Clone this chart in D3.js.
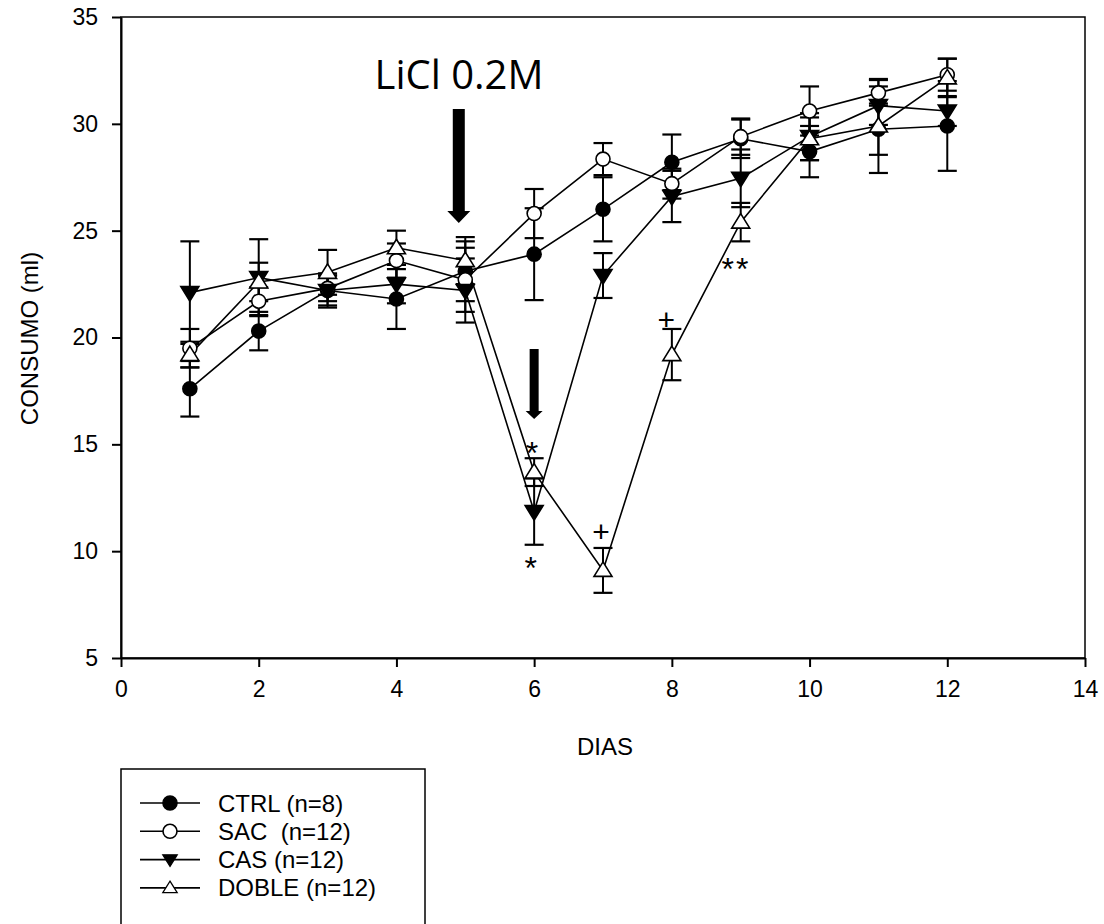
<!DOCTYPE html>
<html>
<head>
<meta charset="utf-8">
<script src="https://cdn.jsdelivr.net/npm/d3@7"></script>
<style>
  body { margin: 0; background: #fff; }
  svg { display: block; }
</style>
</head>
<body>
<script>
// data
var dias = [1, 2, 3, 4, 5, 6, 7, 8, 9, 10, 11, 12];
var ctrl = [17.6, 20.3, 22.2, 21.8, 23.1, 23.9, 26.0, 28.2, 29.3, 28.7, 29.75, 29.9];
var ctrlErr = [1.3, 0.9, 0.7, 1.4, 1.4, 2.15, 1.5, 1.3, 0.9, 1.2, 1.2, 2.1];
var sac = [19.5, 21.7, 22.3, 23.6, 22.7, 25.8, 28.35, 27.2, 29.4, 30.6, 31.45, 32.3];
var sacErr = [0.9, 0.65, 0.6, 0.8, 1.5, 1.15, 0.75, 0.7, 0.85, 1.15, 0.6, 0.75];
var cas = [22.1, 22.8, 22.2, 22.5, 22.2, 11.85, 22.9, 26.6, 27.45, 29.4, 30.85, 30.6];
var casErr = [2.4, 1.8, 0.8, 0.9, 1.5, 1.55, 1.05, 1.2, 1.35, 1.1, 0.9, 0.7];
var doble = [19.2, 22.6, 23.05, 24.2, 23.6, 13.7, 9.1, 19.2, 25.4, 29.3, 29.9, 32.15];
var dobleErr = [0.6, 0.9, 1.05, 0.8, 1.1, 0.65, 1.05, 1.2, 0.9, 1.0, 2.2, 0.9];
var xTicks = [0, 2, 4, 6, 8, 10, 12, 14];
var yTicks = [5, 10, 15, 20, 25, 30, 35];
var nombres = ["CTRL (n=8)", "SAC  (n=12)", "CAS (n=12)", "DOBLE (n=12)"];
// significance marks: [day, value, text]
var marcas = [[5.97, 14.6, "*"], [5.95, 9.2, "*"], [6.97, 10.9, "+"], [7.92, 20.85, "+"], [8.93, 23.2, "**"]];

var W = 1104, H = 924;
var mL = 121, mR = 1085, mT = 17, mB = 658;

var svg = d3.select("body").append("svg")
  .attr("width", W)
  .attr("height", H);

var x = d3.scaleLinear().domain([0, 14]).range([mL, mR]);
var y = d3.scaleLinear().domain([5, 35]).range([mB, mT]);

var series = [
  { name: nombres[0], v: ctrl, e: ctrlErr, sym: "circle", fill: "#000" },
  { name: nombres[1], v: sac, e: sacErr, sym: "circle", fill: "#fff" },
  { name: nombres[2], v: cas, e: casErr, sym: "down", fill: "#000" },
  { name: nombres[3], v: doble, e: dobleErr, sym: "up", fill: "#fff" }
];

function symPath(s) {
  if (s == "up") return "M0,-8.5L9,6L-9,6Z";
  if (s == "down") return "M0,8.5L9,-6L-9,-6Z";
  return null;
}

function addSymbol(g, s) {
  if (s.sym == "circle") {
    g.append("circle").attr("r", 7)
      .attr("fill", s.fill).attr("stroke", "#000").attr("stroke-width", 1.6);
  } else {
    g.append("path").attr("d", symPath(s.sym))
      .attr("fill", s.fill).attr("stroke", "#000").attr("stroke-width", 1.6);
  }
}

// frame
svg.append("rect")
  .attr("x", mL).attr("y", mT)
  .attr("width", mR - mL).attr("height", mB - mT)
  .attr("fill", "none").attr("stroke", "#000").attr("stroke-width", 1.5);

// axes
var xAxis = svg.append("g")
  .attr("transform", "translate(0," + mB + ")")
  .call(d3.axisBottom(x).tickValues(xTicks).tickSize(9).tickSizeOuter(0).tickPadding(14));
var yAxis = svg.append("g")
  .attr("transform", "translate(" + mL + ",0)")
  .call(d3.axisLeft(y).tickValues(yTicks).tickSize(9).tickSizeOuter(0).tickPadding(14));

[xAxis, yAxis].forEach(function(a) {
  a.select(".domain").attr("stroke-width", 2);
  a.selectAll(".tick line").attr("stroke-width", 2);
  a.selectAll(".tick text")
    .attr("font-family", "Liberation Sans, Arial, sans-serif")
    .attr("font-size", 23)
    .attr("fill", "#000");
});

// axis titles
svg.append("text")
  .attr("x", (mL + mR) / 2 + 2).attr("y", 755)
  .attr("text-anchor", "middle")
  .attr("font-family", "Liberation Sans, Arial, sans-serif")
  .attr("font-size", 24)
  .text("DIAS");
svg.append("text")
  .attr("transform", "translate(38," + ((mT + mB) / 2 + 1) + ") rotate(-90)")
  .attr("text-anchor", "middle")
  .attr("font-family", "Liberation Sans, Arial, sans-serif")
  .attr("font-size", 24)
  .text("CONSUMO (ml)");

var plot = svg.append("g");

// lines
var line = d3.line()
  .x(function(d, i) { return x(dias[i]); })
  .y(function(d) { return y(d); });

series.forEach(function(s) {
  plot.append("path")
    .datum(s.v)
    .attr("d", line)
    .attr("fill", "none")
    .attr("stroke", "#000")
    .attr("stroke-width", 1.6);
});

// error bars
series.forEach(function(s) {
  var g = plot.append("g");
  s.v.forEach(function(v, i) {
    var cx = x(dias[i]);
    g.append("line")
      .attr("x1", cx).attr("x2", cx)
      .attr("y1", y(v - s.e[i])).attr("y2", y(v + s.e[i]))
      .attr("stroke", "#000").attr("stroke-width", 2);
    [v - s.e[i], v + s.e[i]].forEach(function(c) {
      g.append("line")
        .attr("x1", cx - 9.5).attr("x2", cx + 9.5)
        .attr("y1", y(c)).attr("y2", y(c))
        .attr("stroke", "#000").attr("stroke-width", 2.2);
    });
  });
});

// symbols
series.forEach(function(s) {
  s.v.forEach(function(v, i) {
    var g = plot.append("g")
      .attr("transform", "translate(" + x(dias[i]) + "," + y(v) + ")");
    addSymbol(g, s);
  });
});

// significance marks
svg.selectAll("text.marca")
  .data(marcas)
  .enter()
  .append("text")
  .attr("class", "marca")
  .attr("x", function(d) { return x(d[0]); })
  .attr("y", function(d) { return y(d[1]); })
  .attr("text-anchor", "middle")
  .attr("dominant-baseline", "central")
  .attr("font-family", "Liberation Sans, Arial, sans-serif")
  .attr("font-size", function(d) { return d[2] == "+" ? 30 : 32; })
  .attr("letter-spacing", function(d) { return d[2] == "**" ? 2 : 0; })
  .text(function(d) { return d[2]; });

// LiCl annotation and arrows
svg.append("text")
  .attr("x", 459).attr("y", 89)
  .attr("text-anchor", "middle")
  .attr("font-family", "Open Sans, sans-serif")
  .attr("font-size", 40)
  .text("LiCl 0.2M");

function arrow(cx, y0, y1, sw, hw, hh) {
  svg.append("path")
    .attr("d", "M" + (cx - sw / 2) + "," + y0 +
      "L" + (cx + sw / 2) + "," + y0 +
      "L" + (cx + sw / 2) + "," + (y1 - hh) +
      "L" + (cx + hw / 2) + "," + (y1 - hh) +
      "L" + cx + "," + y1 +
      "L" + (cx - hw / 2) + "," + (y1 - hh) +
      "L" + (cx - sw / 2) + "," + (y1 - hh) + "Z")
    .attr("fill", "#000");
}
arrow(x(5) - 6.5, 109, 223, 12, 23, 12);
arrow(x(6), 349, 419, 9, 17, 8);

// legend
var lg = svg.append("g");
lg.append("rect")
  .attr("x", 121).attr("y", 769)
  .attr("width", 304).attr("height", 200)
  .attr("fill", "#fff").attr("stroke", "#000").attr("stroke-width", 1.5);

series.forEach(function(s, i) {
  var ry = 803 + i * 28.3;
  lg.append("line")
    .attr("x1", 140).attr("x2", 200)
    .attr("y1", ry).attr("y2", ry)
    .attr("stroke", "#000").attr("stroke-width", 1.6);
  var g = lg.append("g").attr("transform", "translate(170," + ry + ")" + (s.sym == "circle" ? "" : " scale(0.8)"));
  addSymbol(g, s);
  lg.append("text")
    .attr("x", 218).attr("y", ry)
    .attr("dominant-baseline", "central")
    .attr("font-family", "Liberation Sans, Arial, sans-serif")
    .attr("font-size", 24)
    .style("white-space", "pre")
    .text(s.name);
});
</script>
</body>
</html>
